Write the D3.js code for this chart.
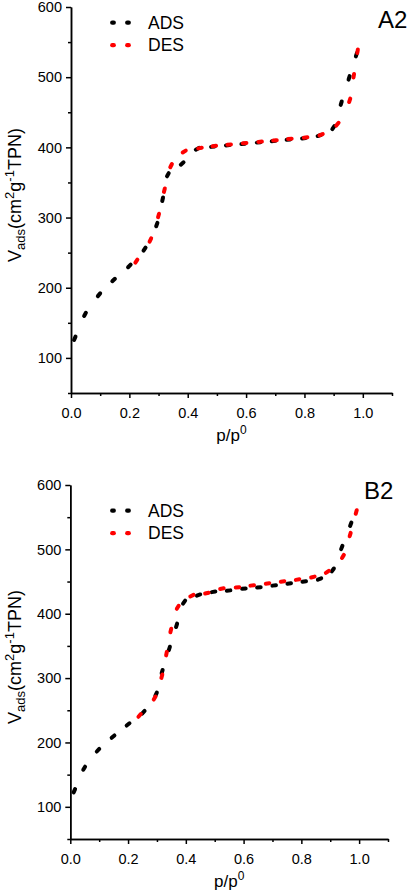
<!DOCTYPE html>
<html>
<head>
<meta charset="utf-8">
<script src="https://cdn.jsdelivr.net/npm/d3@7"></script>
<style>
  body { margin: 0; background: #fff; }
  text { font-family: Arial, "Liberation Sans", sans-serif; }
</style>
</head>
<body>
<div id="chart"></div>
<script>
// panel A2
var a2AdsP = [0.013, 0.048, 0.096, 0.146, 0.200, 0.252, 0.294, 0.314, 0.332, 0.381, 0.433, 0.486, 0.537, 0.590, 0.643, 0.694, 0.745, 0.798, 0.851, 0.899, 0.926, 0.953, 0.978];
var a2AdsV = [128, 162, 190, 211, 231, 255, 290, 326, 361, 377, 398, 401, 403, 405, 407, 409, 411, 413, 417, 428, 463, 499, 532];
var a2DesP = [0.224, 0.272, 0.300, 0.320, 0.343, 0.388, 0.442, 0.491, 0.542, 0.595, 0.648, 0.699, 0.750, 0.804, 0.857, 0.913, 0.955, 0.969, 0.982];
var a2DesV = [238, 268, 303, 339, 374, 394, 399, 402, 404, 406, 408, 410, 412, 414, 418, 433, 467, 502, 537];

// panel B2
var b2AdsP = [0.014, 0.048, 0.096, 0.148, 0.200, 0.253, 0.297, 0.318, 0.343, 0.368, 0.394, 0.444, 0.496, 0.548, 0.601, 0.653, 0.706, 0.758, 0.810, 0.863, 0.909, 0.940, 0.971];
var b2AdsV = [125, 160, 188, 209, 228, 247, 275, 310, 346, 382, 418, 429, 434, 436, 439, 441, 444, 447, 450, 454, 468, 503, 539];
var b2DesP = [0.240, 0.292, 0.317, 0.333, 0.348, 0.372, 0.421, 0.473, 0.525, 0.579, 0.630, 0.683, 0.735, 0.787, 0.840, 0.890, 0.944, 0.969, 0.990];
var b2DesV = [242, 269, 303, 338, 374, 410, 428, 432, 439, 441, 444, 447, 450, 453, 457, 465, 489, 523, 558];

var xMajor = [0, 0.2, 0.4, 0.6, 0.8, 1.0];
var xMinor = [0.1, 0.3, 0.5, 0.7, 0.9, 1.1];
var yMajor = [100, 200, 300, 400, 500, 600];
var yMinor = [50, 150, 250, 350, 450, 550];
var seriesNames = ["ADS", "DES"];
var seriesColors = ["#000000", "#ff0000"];

var svg = d3.select("#chart").append("svg")
    .attr("width", 408)
    .attr("height", 892);

function panel(box, label, ads, des){
    var x = d3.scaleLinear().domain([0, 1.1]).range([box.left, box.right]);
    var y = d3.scaleLinear().domain([50, 600]).range([box.bottom, box.top]);
    var g = svg.append("g");

    // minor ticks first, then major with labels
    g.append("g")
        .attr("transform", "translate(0," + box.bottom + ")")
        .call(d3.axisBottom(x).tickValues(xMinor).tickSize(3).tickSizeOuter(0).tickFormat(""));
    g.append("g")
        .attr("transform", "translate(" + box.left + ",0)")
        .call(d3.axisLeft(y).tickValues(yMinor).tickSize(3).tickSizeOuter(0).tickFormat(""));
    g.append("g")
        .attr("class", "xax")
        .attr("transform", "translate(0," + box.bottom + ")")
        .call(d3.axisBottom(x).tickValues(xMajor).tickSize(5).tickPadding(9.5).tickSizeOuter(0).tickFormat(d3.format(".1f")));
    g.append("g")
        .attr("class", "yax")
        .attr("transform", "translate(" + box.left + ",0)")
        .call(d3.axisLeft(y).tickValues(yMajor).tickSize(5).tickPadding(4).tickSizeOuter(0));

    g.selectAll(".domain").attr("stroke", "#000").attr("stroke-width", 1.5);
    g.selectAll(".tick line").attr("stroke", "#000").attr("stroke-width", 1.5);
    g.selectAll(".tick text")
        .attr("fill", "#000")
        .style("font-size", "14.5px")
        .style("font-family", "Arial, 'Liberation Sans', sans-serif");

    // short dashes along the curve, one per measured point
    [ads, des].forEach(function(s, k){
        var pts = s.p.map(function(d, i){ return [x(d), y(s.v[i])]; });
        var segs = pts.map(function(pt, i){
            var a = pts[Math.max(0, i - 1)], b = pts[Math.min(pts.length - 1, i + 1)];
            var dx = b[0] - a[0], dy = b[1] - a[1];
            var len = Math.sqrt(dx * dx + dy * dy) || 1;
            var h = 1.8;
            return [pt[0] - dx / len * h, pt[1] - dy / len * h, pt[0] + dx / len * h, pt[1] + dy / len * h];
        });
        g.append("g").selectAll("line")
            .data(segs)
            .enter().append("line")
            .attr("x1", function(d){ return d[0]; })
            .attr("y1", function(d){ return d[1]; })
            .attr("x2", function(d){ return d[2]; })
            .attr("y2", function(d){ return d[3]; })
            .attr("stroke", seriesColors[k])
            .attr("stroke-width", 4)
            .attr("stroke-linecap", "round");
    });

    // legend
    var leg = g.selectAll(".leg")
        .data(seriesNames)
        .enter().append("g")
        .attr("transform", function(d, i){ return "translate(0," + (box.legendY + i * 22.5) + ")"; });
    leg.each(function(d, i){
        var l = d3.select(this);
        [113, 128].forEach(function(cx){
            l.append("line")
                .attr("x1", cx - 0.8).attr("x2", cx + 0.8)
                .attr("y1", 0).attr("y2", 0)
                .attr("stroke", seriesColors[i])
                .attr("stroke-width", 4.2)
                .attr("stroke-linecap", "round");
        });
    });
    leg.append("text")
        .attr("x", 148)
        .attr("y", 6)
        .attr("font-size", "17.5px")
        .text(function(d){ return d; });

    // panel label
    g.append("text")
        .attr("x", box.labelX)
        .attr("y", box.labelY)
        .attr("font-size", "24px")
        .text(label);

    // x axis title
    var xt = g.append("text")
        .attr("x", (box.left + box.right) / 2)
        .attr("y", box.bottom + 48)
        .attr("text-anchor", "middle")
        .attr("font-size", "17px");
    xt.append("tspan").text("p/p");
    xt.append("tspan").attr("font-size", "12px").attr("dy", -7).text("0");

    // y axis title
    var yt = g.append("text")
        .attr("transform", "translate(21," + ((box.top + box.bottom) / 2 - 5) + ") rotate(-90)")
        .attr("text-anchor", "middle")
        .attr("font-size", "18px");
    yt.append("tspan").text("V");
    yt.append("tspan").attr("font-size", "13px").attr("dy", 4).text("ads");
    yt.append("tspan").attr("dy", -4).text("(cm");
    yt.append("tspan").attr("font-size", "13px").attr("dy", -7).text("2");
    yt.append("tspan").attr("dy", 7).text("g");
    yt.append("tspan").attr("font-size", "13px").attr("dy", -7).text("-1");
    yt.append("tspan").attr("dy", 7).text("TPN)");
}

panel({left: 71, right: 392, top: 7, bottom: 393, legendY: 22.7, labelX: 378, labelY: 28}, "A2",
    {p: a2AdsP, v: a2AdsV}, {p: a2DesP, v: a2DesV});
panel({left: 70.3, right: 388, top: 485, bottom: 839, legendY: 510.7, labelX: 364, labelY: 499}, "B2",
    {p: b2AdsP, v: b2AdsV}, {p: b2DesP, v: b2DesV});
</script>
</body>
</html>
